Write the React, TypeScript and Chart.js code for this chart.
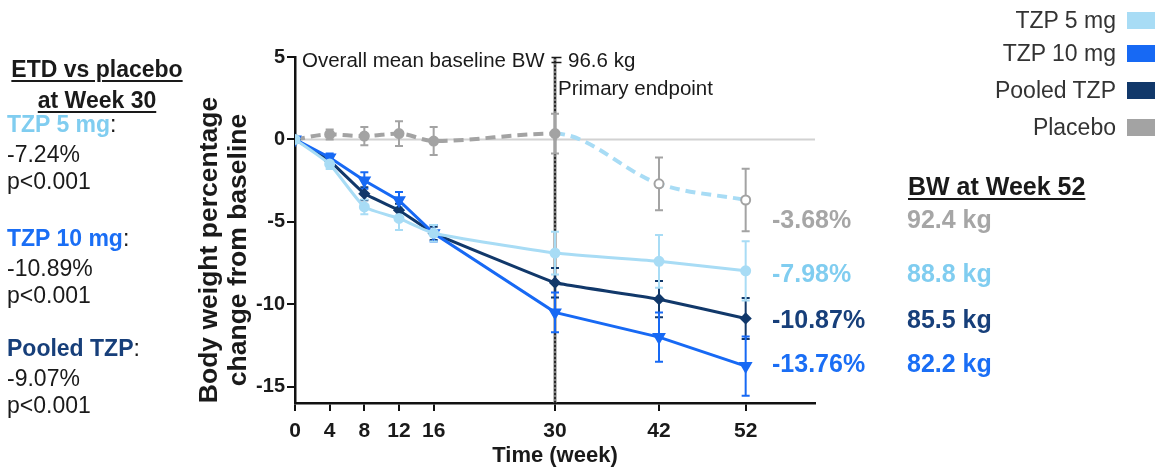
import React, { useEffect, useRef } from 'react';
import { Chart, registerables } from 'chart.js';

Chart.register(...registerables);

const FONT = "'Liberation Sans', Arial, Helvetica, sans-serif";

// ---- data ----
const weeks = [0, 4, 8, 12, 16, 30, 42, 52];
const xTickValues = [0, 4, 8, 12, 16, 30, 42, 52];
const yTickValues = [5, 0, -5, -10, -15];

const tzp5 = [0, -1.5, -4.1, -4.8, -5.7, -6.9, -7.4, -7.98];
const tzp5Err = [0, 0.3, 0.45, 0.7, 0.5, 1.3, 1.6, 1.8];
const tzp10 = [0, -1.1, -2.5, -3.7, -5.7, -10.5, -12.0, -13.76];
const tzp10Err = [0, 0.25, 0.5, 0.5, 0.5, 1.2, 1.5, 1.8];
const pooled = [0, -1.3, -3.3, -4.3, -5.7, -8.7, -9.7, -10.87];
const pooledErr = [0, 0.2, 0.4, 0.4, 0.4, 0.9, 1.1, 1.25];
const placebo = [0, 0.3, 0.2, 0.35, -0.1, 0.35, -2.7, -3.68];
const placeboErr = [0, 0.3, 0.55, 0.75, 0.85, 1.2, 1.6, 1.9];

const seriesNames = ['TZP 5 mg', 'TZP 10 mg', 'Pooled TZP', 'Placebo'];
const seriesColors = ['#a8dcf5', '#1769f4', '#11386a', '#a3a3a3'];
const textColors = ['#80cdf0', '#1a6ef5', '#173f7a', '#a6a6a6'];
const seriesTension = [0.15, 0, 0.05, 0];

const endpointWeek = 30;
const placeboSwitchIndex = 5;
const baselineNote = 'Overall mean baseline BW = 96.6 kg';
const endpointNote = 'Primary endpoint';
const yTitleLines = ['Body weight percentage', 'change from baseline'];
const xTitle = 'Time (week)';

const etdTitle = ['ETD vs placebo', 'at Week 30'];
const etdNames = ['TZP 5 mg', 'TZP 10 mg', 'Pooled TZP'];
const etdValues = ['-7.24%', '-10.89%', '-9.07%'];
const etdP = ['p<0.001', 'p<0.001', 'p<0.001'];

const week52Title = 'BW at Week 52';
const week52Series = [3, 0, 2, 1];
const week52Pct = ['-3.68%', '-7.98%', '-10.87%', '-13.76%'];
const week52Kg = ['92.4 kg', '88.8 kg', '85.5 kg', '82.2 kg'];

const seriesValues = [tzp5, tzp10, pooled, placebo];
const seriesErrors = [tzp5Err, tzp10Err, pooledErr, placeboErr];

const toPoints = (vals: number[]) => weeks.map((w, i) => ({ x: w, y: vals[i] }));

const overlayPlugin = {
  id: 'overlay',
  beforeDatasetsDraw(chart: any) {
    const { ctx, chartArea, scales } = chart;
    const x = scales.x;
    const y = scales.y;
    ctx.save();
    // zero reference line
    ctx.strokeStyle = '#d2d2d2';
    ctx.lineWidth = 2;
    ctx.beginPath();
    ctx.moveTo(x.getPixelForValue(0), y.getPixelForValue(0));
    ctx.lineTo(x.getPixelForValue(x.max), y.getPixelForValue(0));
    ctx.stroke();
    // primary endpoint line
    const ex = x.getPixelForValue(endpointWeek);
    ctx.strokeStyle = '#7a7a7a';
    ctx.lineWidth = 3;
    ctx.beginPath();
    ctx.moveTo(ex, chartArea.top);
    ctx.lineTo(ex, chartArea.bottom);
    ctx.stroke();
    ctx.strokeStyle = '#111';
    ctx.lineWidth = 1.5;
    ctx.setLineDash([2, 2]);
    ctx.beginPath();
    ctx.moveTo(ex, chartArea.top);
    ctx.lineTo(ex, chartArea.bottom);
    ctx.stroke();
    ctx.setLineDash([]);
    // error bars (placebo first)
    for (let i = seriesValues.length - 1; i >= 0; i--) {
      const vals = seriesValues[i];
      const errs = seriesErrors[i];
      ctx.strokeStyle = seriesColors[i];
      ctx.lineWidth = 2;
      weeks.forEach((w, j) => {
        if (!errs[j]) return;
        const px = x.getPixelForValue(w);
        const t = y.getPixelForValue(vals[j] + errs[j]);
        const b = y.getPixelForValue(vals[j] - errs[j]);
        ctx.beginPath();
        ctx.moveTo(px, t);
        ctx.lineTo(px, b);
        ctx.moveTo(px - 4, t);
        ctx.lineTo(px + 4, t);
        ctx.moveTo(px - 4, b);
        ctx.lineTo(px + 4, b);
        ctx.stroke();
      });
    }
    ctx.restore();
  },
  afterDraw(chart: any) {
    const { ctx, scales } = chart;
    const x = scales.x;
    ctx.save();
    ctx.fillStyle = '#1a1a1a';
    ctx.font = `20.5px ${FONT}`;
    ctx.textAlign = 'left';
    ctx.textBaseline = 'alphabetic';
    ctx.fillText(baselineNote, 302, 67);
    ctx.fillText(endpointNote, x.getPixelForValue(endpointWeek) + 3, 95);
    // y axis title
    ctx.font = `bold 26.5px ${FONT}`;
    ctx.textAlign = 'center';
    ctx.textBaseline = 'middle';
    ctx.translate(0, 250);
    ctx.rotate(-Math.PI / 2);
    ctx.fillText(yTitleLines[0], 0, 210);
    ctx.fillText(yTitleLines[1], 0, 239);
    ctx.restore();
  },
};

function T(props: any) {
  const { x, y, size, bold, color, align, underline, children } = props;
  const lh = Math.round(size * 1.2);
  const style: any = {
    position: 'absolute',
    top: y - lh / 2,
    fontSize: size,
    lineHeight: lh + 'px',
    fontWeight: bold ? 700 : 400,
    color: color || '#1a1a1a',
    whiteSpace: 'nowrap',
    fontFamily: FONT,
  };
  if (align === 'right') style.right = 1156 - x;
  else if (align === 'center') {
    style.left = x;
    style.transform = 'translateX(-50%)';
  } else style.left = x;
  if (underline) {
    style.textDecoration = 'underline';
    style.textDecorationThickness = '2px';
    style.textUnderlineOffset = '3px';
  }
  return <div style={style}>{children}</div>;
}

export default function App() {
  const canvasRef = useRef<HTMLCanvasElement | null>(null);

  useEffect(() => {
    const canvas = canvasRef.current;
    if (!canvas) return;
    const pointStyles = ['circle', 'triangle', 'rectRot', 'circle'];
    const pointRadii = [4, 5, 4, 4.5];
    const datasets = seriesNames.map((name, i) => {
      const ds: any = {
        label: name,
        data: toPoints(seriesValues[i]),
        borderColor: seriesColors[i],
        backgroundColor: seriesColors[i],
        pointBackgroundColor: seriesColors[i],
        pointBorderColor: seriesColors[i],
        borderWidth: 3,
        pointStyle: pointStyles[i],
        pointRadius: pointRadii[i],
        pointRotation: i === 1 ? 180 : 0,
        tension: seriesTension[i],
        fill: false,
      };
      if (i === 3) {
        ds.borderWidth = 4;
        ds.borderDash = [10, 6];
        ds.cubicInterpolationMode = 'monotone';
        ds.pointBackgroundColor = weeks.map((_, j) => (j > placeboSwitchIndex ? '#ffffff' : seriesColors[3]));
        ds.pointBorderWidth = 2;
        ds.segment = {
          borderColor: (c: any) => (c.p0DataIndex >= placeboSwitchIndex ? seriesColors[0] : seriesColors[3]),
        };
      }
      return ds;
    });

    const chart = new Chart(canvas, {
      type: 'line',
      data: { datasets },
      plugins: [overlayPlugin],
      options: {
        animation: false,
        responsive: false,
        maintainAspectRatio: false,
        layout: { padding: { left: 195, right: 341, top: 57, bottom: 0 } },
        plugins: {
          legend: { display: false },
          tooltip: { enabled: false },
        },
        scales: {
          x: {
            type: 'linear',
            min: 0,
            max: 60,
            afterFit: (s: any) => {
              s.height = 71;
            },
            afterBuildTicks: (s: any) => {
              s.ticks = xTickValues.map((v) => ({ value: v }));
            },
            ticks: {
              autoSkip: false,
              maxRotation: 0,
              color: '#1a1a1a',
              padding: 8,
              font: { family: FONT, size: 21, weight: 'bold' },
            },
            grid: { drawOnChartArea: false, drawTicks: true, tickLength: 8, color: '#111', lineWidth: 2 },
            border: { display: true, color: '#111', width: 2.5 },
            title: {
              display: true,
              text: xTitle,
              color: '#1a1a1a',
              font: { family: FONT, size: 22, weight: 'bold' },
              padding: { top: 0, bottom: 5 },
            },
          },
          y: {
            type: 'linear',
            min: -16,
            max: 5,
            afterFit: (s: any) => {
              s.width = 100;
            },
            afterBuildTicks: (s: any) => {
              s.ticks = yTickValues.map((v) => ({ value: v }));
            },
            ticks: {
              color: '#1a1a1a',
              padding: 2,
              font: { family: FONT, size: 20, weight: 'bold' },
            },
            grid: { drawOnChartArea: false, drawTicks: true, tickLength: 8, color: '#111', lineWidth: 2 },
            border: { display: true, color: '#111', width: 2.5 },
          },
        },
      } as any,
    });
    return () => chart.destroy();
  }, []);

  const legendY = [20, 53, 90, 127];
  const etdRowY = [124, 238, 348];
  const w52Y = [219, 273, 319, 363];

  return (
    <div style={{ position: 'absolute', left: 0, top: 0, width: 1156, height: 474, background: '#fff', overflow: 'hidden' }}>
      <canvas ref={canvasRef} width={1156} height={474} style={{ position: 'absolute', left: 0, top: 0 }} />

      <T x={97} y={69} size={23} bold underline align="center">{etdTitle[0]}</T>
      <T x={97} y={100} size={23} bold underline align="center">{etdTitle[1]}</T>
      {etdNames.map((n, i) => (
        <React.Fragment key={n}>
          <T x={7} y={etdRowY[i]} size={23}>
            <span style={{ color: textColors[i], fontWeight: 700 }}>{n}</span>:
          </T>
          <T x={7} y={etdRowY[i] + 30} size={23}>{etdValues[i]}</T>
          <T x={7} y={etdRowY[i] + 57} size={23}>{etdP[i]}</T>
        </React.Fragment>
      ))}

      {seriesNames.map((n, i) => (
        <React.Fragment key={n}>
          <T x={1116} y={legendY[i]} size={23} color="#333" align="right">{n}</T>
          <div style={{ position: 'absolute', left: 1127, top: legendY[i] - 8.5, width: 28, height: 17, background: seriesColors[i] }} />
        </React.Fragment>
      ))}

      <T x={908} y={186} size={25} bold underline>{week52Title}</T>
      {week52Pct.map((p, i) => (
        <React.Fragment key={p}>
          <T x={772} y={w52Y[i]} size={25} bold color={textColors[week52Series[i]]}>{p}</T>
          <T x={907} y={w52Y[i]} size={25} bold color={textColors[week52Series[i]]}>{week52Kg[i]}</T>
        </React.Fragment>
      ))}
    </div>
  );
}
